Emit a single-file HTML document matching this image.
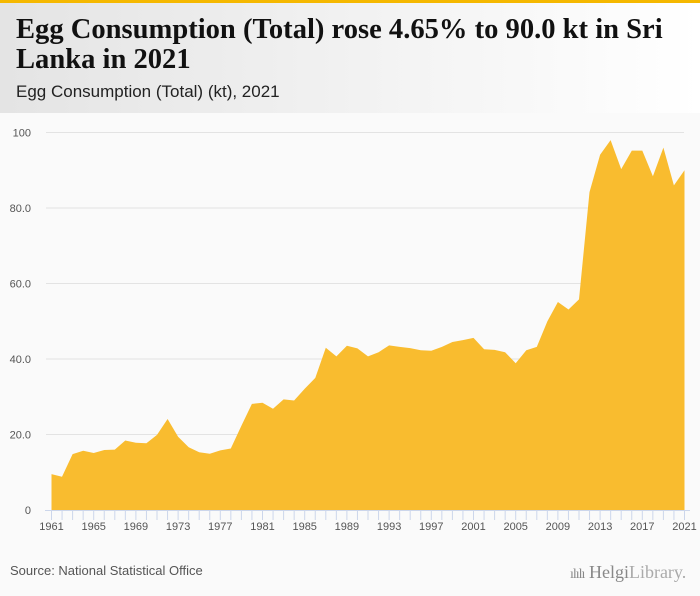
<!DOCTYPE html>
<html><head><meta charset="utf-8">
<style>
body{margin:0;width:700px;height:596px;overflow:hidden;background:#fafafa;font-family:"Liberation Sans",sans-serif;position:relative}
#topbar{position:absolute;left:0;top:0;width:700px;height:3px;background:#f5b800}
#header{position:absolute;left:0;top:3px;width:700px;height:110px;background:linear-gradient(90deg,#e4e4e4,#ffffff)}
#title{position:absolute;left:16px;top:12px;font-family:"Liberation Serif",serif;font-weight:bold;font-size:28px;line-height:30px;color:#111;margin:0;white-space:nowrap;transform:scaleX(1.02);transform-origin:left top}
#subtitle{position:absolute;left:16px;top:79px;font-size:17px;color:#222}
#source{position:absolute;left:10px;top:563px;font-size:13px;color:#555}
#logo{position:absolute;left:570px;top:562px;font-family:"Liberation Serif",serif;font-size:18px;color:#888}
</style></head><body>
<div id="topbar"></div>
<div id="header">
<div id="title">Egg Consumption (Total) rose 4.65% to 90.0 kt in Sri<br>Lanka in 2021</div>
<div id="subtitle">Egg Consumption (Total) (kt), 2021</div>
</div>
<svg id="chart" width="700" height="596" style="position:absolute;left:0;top:0" xmlns="http://www.w3.org/2000/svg"></svg>
<div id="source">Source: National Statistical Office</div>
<div id="logo"><span style="font-size:14px;letter-spacing:-1px">ılılı</span> Helgi<span style="color:#aaa">Library.</span></div>
<script>
const years=[1961,1962,1963,1964,1965,1966,1967,1968,1969,1970,1971,1972,1973,1974,1975,1976,1977,1978,1979,1980,1981,1982,1983,1984,1985,1986,1987,1988,1989,1990,1991,1992,1993,1994,1995,1996,1997,1998,1999,2000,2001,2002,2003,2004,2005,2006,2007,2008,2009,2010,2011,2012,2013,2014,2015,2016,2017,2018,2019,2020,2021];
const values=[9.5,8.8,14.8,15.7,15.1,15.9,16.0,18.4,17.8,17.7,19.9,24.1,19.4,16.6,15.3,14.9,15.8,16.3,22.3,28.1,28.4,26.8,29.3,29.0,32.1,35.0,43.0,40.7,43.5,42.8,40.7,41.8,43.6,43.2,42.9,42.3,42.2,43.2,44.5,45.0,45.6,42.6,42.4,41.8,38.9,42.3,43.2,50.0,55.1,53.1,55.8,84.2,94.1,98.0,90.3,95.2,95.2,88.4,96.0,86.0,90.0];
const yTicks=[0,20,40,60,80,100];
const yTickLabels=["0","20.0","40.0","60.0","80.0","100"];
const xTickYears=[1961,1965,1969,1973,1977,1981,1985,1989,1993,1997,2001,2005,2009,2013,2017,2021];
const NS="http://www.w3.org/2000/svg";
const svg=document.getElementById('chart');
const x0=51.5,x1=684.5,yb=510,yt=132.5;
const xs=y=>x0+(y-years[0])/(years[years.length-1]-years[0])*(x1-x0);
const ys=v=>yb-v/100*(yb-yt);
function mk(t,a){const e=document.createElementNS(NS,t);for(const k in a)e.setAttribute(k,a[k]);svg.appendChild(e);return e;}
yTicks.forEach((t,i)=>{
 if(t>0){const g=mk('line',{x1:46,x2:684,y1:ys(t),y2:ys(t),stroke:'#e3e3e3','stroke-width':1});
 
 }
 const l=mk('text',{x:31,y:ys(t)+4,'text-anchor':'end','font-size':11,fill:'#555','font-family':'Liberation Sans, sans-serif'});
 l.textContent=yTickLabels[i];
 
 
});
let d='M'+xs(years[0])+','+yb;
years.forEach((y,i)=>{d+=' L'+xs(y).toFixed(1)+','+ys(values[i]).toFixed(1);});
d+=' L'+xs(years[years.length-1])+','+yb+' Z';
const area=mk('path',{d:d,fill:'#f9bc2f'});


const ax=mk('line',{x1:45,x2:690,y1:yb+0.5,y2:yb+0.5,stroke:'#ccd6eb','stroke-width':1});


years.forEach(y=>{const t=mk('line',{x1:xs(y),x2:xs(y),y1:yb,y2:yb+10,stroke:'#ccd6eb','stroke-width':1});
 
 });
xTickYears.forEach(y=>{const l=mk('text',{x:xs(y),y:530,'text-anchor':'middle','font-size':11,fill:'#555','font-family':'Liberation Sans, sans-serif'});
 l.textContent=y;
 
 });
</script>
</body></html>
